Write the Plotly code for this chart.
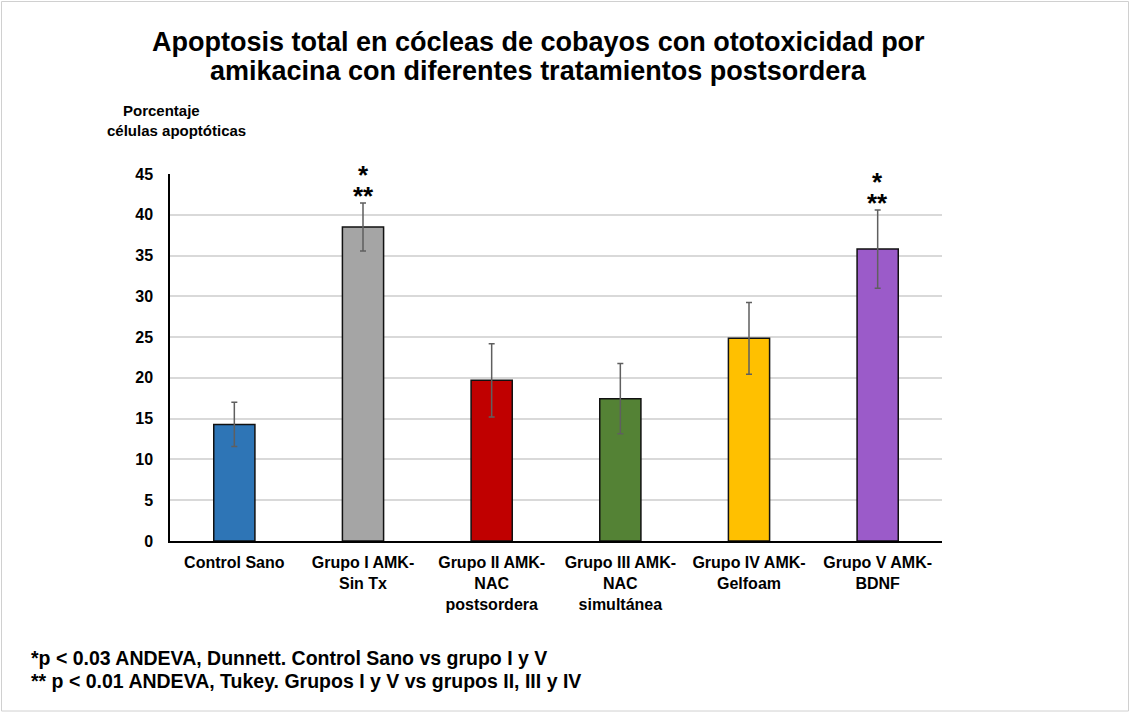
import plotly.graph_objects as go

categories = ["Control Sano", "Grupo I AMK-<br>Sin Tx", "Grupo II AMK-<br>NAC<br>postsordera",
              "Grupo III AMK-<br>NAC<br>simultánea", "Grupo IV AMK-<br>Gelfoam", "Grupo V AMK-<br>BDNF"]
values = [14.3, 38.5, 19.7, 17.45, 24.85, 35.8]
errors = [2.7, 2.95, 4.5, 4.3, 4.4, 4.8]
colors = ["#2E75B6", "#A5A5A5", "#C00000", "#548235", "#FFC000", "#9B5BC9"]
significant = [False, True, False, False, False, True]
y_ticks = [0, 5, 10, 15, 20, 25, 30, 35, 40, 45]

W, H = 1131, 712
ml, mr, mt, mb = 170, 189, 174, 171
pw, ph = W - ml - mr, H - mt - mb

FONT = "Liberation Sans, Arial, sans-serif"

def px_x(x):
    return (x - ml) / pw

def px_y(y):
    return (H - mb - y) / ph

fig = go.Figure()
fig.add_trace(go.Bar(
    x=categories, y=values, width=0.32,
    marker=dict(color=colors, line=dict(color="#111111", width=1.5)),
    error_y=dict(type="data", array=errors, visible=True, color="#5f5f5f", thickness=1.5, width=3),
    showlegend=False, hoverinfo="skip",
))

star_text = ('<span style="font-size:26px">*</span><br>'
             '<span style="font-size:26px">**</span>')
for c, v, e, s in zip(categories, values, errors, significant):
    if s:
        fig.add_annotation(x=c, y=v + e, text=star_text, showarrow=False,
                           yanchor="bottom", yshift=-10,
                           font=dict(family=FONT, size=16, color="black", weight="bold"))

fig.update_layout(
    width=W, height=H,
    margin=dict(l=ml, r=mr, t=mt, b=mb),
    paper_bgcolor="white", plot_bgcolor="white",
    xaxis=dict(showline=True, linecolor="black", linewidth=1.5, ticks="", showgrid=False,
               ticklabelstandoff=6,
               tickfont=dict(family=FONT, size=16, color="black", weight="bold")),
    yaxis=dict(range=[0, 45], tickvals=y_ticks, showline=True, linecolor="black", linewidth=1.5,
               showgrid=True, gridcolor="#d9d9d9", gridwidth=1.5, zeroline=False, ticks="",
               ticklabelstandoff=12,
               tickfont=dict(family=FONT, size=16, color="black", weight="bold")),
)

title_lines = [("Apoptosis total en cócleas de cobayos con ototoxicidad por", 42),
               ("amikacina con diferentes tratamientos postsordera", 71)]
for txt, yy in title_lines:
    fig.add_annotation(xref="paper", yref="paper", x=px_x(538), y=px_y(yy), text=txt,
                       showarrow=False, xanchor="center", yanchor="middle",
                       font=dict(family=FONT, size=27, color="black", weight="bold"))

for txt, xc, yy in [("Porcentaje", 161, 110), ("células apoptóticas", 176, 130)]:
    fig.add_annotation(xref="paper", yref="paper", x=px_x(xc), y=px_y(yy), text=txt,
                       showarrow=False, xanchor="center", yanchor="middle",
                       font=dict(family=FONT, size=15, color="black", weight="bold"))

for txt, yy in [("*p < 0.03 ANDEVA, Dunnett. Control Sano vs grupo I y V", 658),
                ("** p < 0.01 ANDEVA, Tukey. Grupos I y V vs grupos II, III y IV", 681)]:
    fig.add_annotation(xref="paper", yref="paper", x=px_x(29), y=px_y(yy), text=txt,
                       showarrow=False, xanchor="left", yanchor="middle", align="left",
                       font=dict(family=FONT, size=19.5, color="black", weight="bold"))

fig.add_shape(type="rect", xref="paper", yref="paper",
              x0=px_x(1.5), x1=px_x(W - 2.5), y0=px_y(H - 1), y1=px_y(1.5),
              line=dict(color="#d0d0d0", width=1), fillcolor="rgba(0,0,0,0)", layer="below")

fig.write_html("out.html", config={"displayModeBar": False},
               post_script="document.body.style.margin='0';")
